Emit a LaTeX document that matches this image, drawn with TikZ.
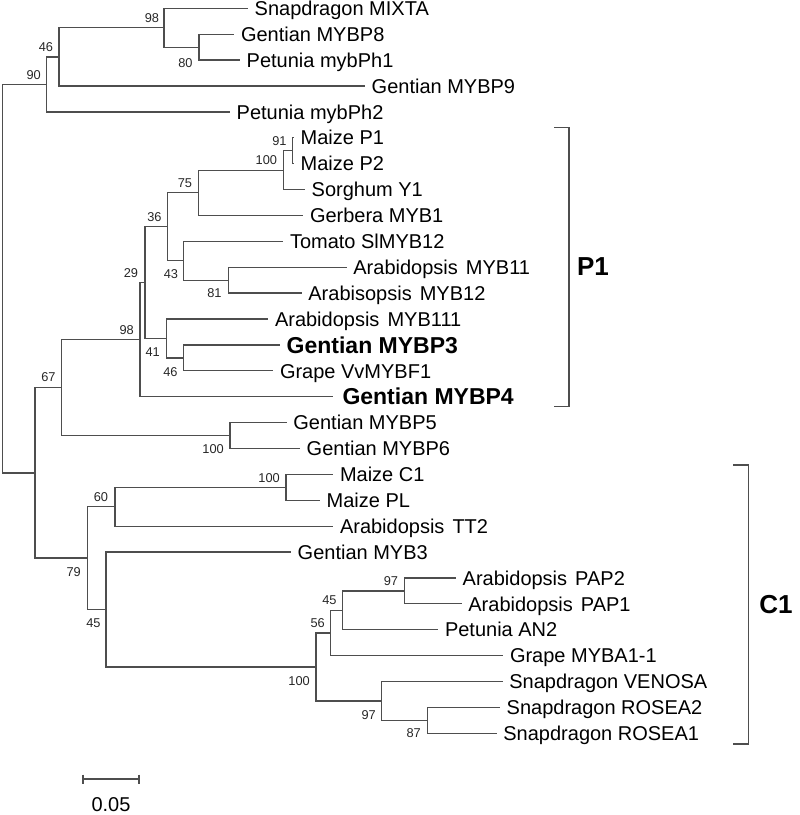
\documentclass[tikz,border=0pt]{standalone}
\usepackage{fontspec}
\setmainfont{Liberation Sans}
\definecolor{ln}{RGB}{78,78,78}
\begin{document}
\begin{tikzpicture}[x=1pt,y=-1pt,
  br/.style={draw=ln,line width=1.3pt},
  leaf/.style={anchor=base west,inner sep=0pt,font=\fontsize{20}{24}\selectfont},
  bleaf/.style={anchor=base west,inner sep=0pt,font=\fontsize{23}{27}\selectfont\bfseries},
  bs/.style={anchor=base east,inner sep=0pt,font=\fontsize{12.8}{15}\selectfont,text=black!85},
  clade/.style={font=\fontsize{26}{30}\selectfont\bfseries,inner sep=0pt},
  ]
\useasboundingbox (0,0) rectangle (800,815);

% leaves
\foreach \i/\x/\t in {
  0/248/{Snapdragon MIXTA},
  1/234.3/{Gentian MYBP8},
  2/240/{Petunia mybPh1},
  3/365/{Gentian MYBP9},
  4/230/{Petunia mybPh2},
  5/294/{Maize P1},
  6/294/{Maize P2},
  7/305/{Sorghum Y1},
  8/303.3/{Gerbera MYB1},
  9/283.3/{Tomato SlMYB12},
  10/346.7/{Arabidopsis\hspace{2.5pt} MYB11},
  11/301.7/{Arabisopsis\hspace{2.5pt} MYB12},
  12/268.3/{Arabidopsis\hspace{2.5pt} MYB111},
  14/273.3/{Grape VvMYBF1},
  16/286.7/{Gentian MYBP5},
  17/300/{Gentian MYBP6},
  18/333.3/{Maize C1},
  19/320/{Maize PL},
  20/333.3/{Arabidopsis\hspace{2.5pt} TT2},
  21/291/{Gentian MYB3},
  22/456/{Arabidopsis\hspace{2.5pt} PAP2},
  23/461.7/{Arabidopsis\hspace{2.5pt} PAP1},
  24/438.3/{Petunia AN2},
  25/503.3/{Grape MYBA1-1},
  26/502.7/{Snapdragon VENOSA},
  27/500/{Snapdragon ROSEA2},
  28/496.7/{Snapdragon ROSEA1}}{
  \coordinate (t\i) at (\x,{8.3+25.893*\i});
  \node[leaf] (L\i) at ([xshift=6.5pt,yshift=-7.2pt]t\i) {\t};
}
\coordinate (t13) at (280,{8.3+25.893*13});
\node[bleaf] (L13) at ([xshift=6.5pt,yshift=-8.2pt]t13) {Gentian MYBP3};
\coordinate (t15) at (333.3,{8.3+25.893*15});
\node[bleaf] (L15) at ([xshift=9pt,yshift=-8.2pt]t15) {Gentian MYBP4};

% internal nodes
\coordinate (n80) at (199,47.15);
\coordinate (n98a) at (164,27.7);
\coordinate (n46a) at (59,56.85);
\coordinate (n90) at (46.7,84.4);
\coordinate (n91) at (292.7,150.75);
\coordinate (n100b) at (283.3,170.2);
\coordinate (n75) at (198.3,192.8);
\coordinate (n81) at (228.3,280.15);
\coordinate (n43) at (183.3,260.7);
\coordinate (n36) at (167.7,226.75);
\coordinate (n46b) at (183.3,357.85);
\coordinate (n41) at (166.7,338.4);
\coordinate (n29) at (145,282.6);
\coordinate (n98b) at (140,339.65);
\coordinate (n100a) at (230,435.55);
\coordinate (n67) at (61.7,387.6);
\coordinate (n100c) at (286,487.3);
\coordinate (n60) at (115,506.75);
\coordinate (n97b) at (404.3,590.95);
\coordinate (n45b) at (342.3,610.3);
\coordinate (n56) at (330.7,632.95);
\coordinate (n87) at (427.3,720.35);
\coordinate (n97a) at (381.7,700.9);
\coordinate (n100d) at (316,666.9);
\coordinate (n45a) at (106,609.5);
\coordinate (n79) at (87.3,558.1);
\coordinate (nX) at (35,472.85);
\coordinate (root) at (2.7,278.6);

% branches
\foreach \p/\c in {n80/t1,n80/t2,n98a/t0,n98a/n80,n46a/n98a,n46a/t3,n90/n46a,n90/t4,
  root/n90,root/nX,
  n91/t5,n91/t6,n100b/n91,n100b/t7,n75/n100b,n75/t8,n81/t10,n81/t11,n43/t9,n43/n81,
  n36/n75,n36/n43,n46b/t13,n46b/t14,n41/t12,n41/n46b,n29/n36,n29/n41,n98b/n29,n98b/t15,
  n100a/t16,n100a/t17,n67/n98b,n67/n100a,nX/n67,nX/n79,
  n100c/t18,n100c/t19,n60/n100c,n60/t20,n79/n60,n79/n45a,n45a/t21,n45a/n100d,
  n97b/t22,n97b/t23,n45b/n97b,n45b/t24,n56/n45b,n56/t25,n100d/n56,n100d/n97a,
  n97a/t26,n97a/n87,n87/t27,n87/t28}{
  \draw[br] (\p) |- (\c);
}

% bootstrap values
\foreach \n/\x/\y/\v in {
  b98a/159.3/18.3/98, b80/192.7/62.7/80, b46a/53.3/46.7/46, b90/41/75/90,
  b91/286.7/140.7/91, b100b/277.3/160/100, b75/192.3/182.7/75, b36/161.7/216.7/36,
  b29/138.3/272.7/29, b43/178.3/274/43, b81/221.7/293.3/81, b98b/134/330/98,
  b41/160/351.7/41, b46b/177.7/371.7/46, b67/55.7/376.7/67, b100a/224/449.3/100,
  b100c/280/477.7/100, b60/108.3/497/60, b79/81/572/79, b45a/100.7/622.7/45,
  b97b/398.3/580.7/97, b45b/336.7/600/45, b56/325/622.7/56, b100d/310/680.7/100,
  b97a/376/715/97, b87/421/733.3/87}{
  \node[bs] (\n) at (\x,{\y+4.6}) {\v};
}

% clade brackets
\coordinate (p1a) at (554,127.7);
\coordinate (p1b) at (569,127.7);
\coordinate (p1c) at (569,406.7);
\coordinate (p1d) at (554,406.7);
\draw[br,line width=1.1pt] (p1a) -- (p1b) -- (p1c) -- (p1d);
\node[clade] (P1) at (593,267) {P1};
\coordinate (c1a) at (733.3,465);
\coordinate (c1b) at (748.3,465);
\coordinate (c1c) at (748.3,744);
\coordinate (c1d) at (733.3,744);
\draw[br,line width=1.1pt] (c1a) -- (c1b) -- (c1c) -- (c1d);
\node[clade] (C1) at (776,605) {C1};

% scale bar
\coordinate (s1) at (83,779);
\coordinate (s2) at (139,779);
\draw[br,line width=1.1pt] (s1) -- (s2);
\draw[br,line width=1.1pt] ([yshift=4.5pt]s1) -- ([yshift=-4.5pt]s1);
\draw[br,line width=1.1pt] ([yshift=4.5pt]s2) -- ([yshift=-4.5pt]s2);
\node[font=\fontsize{20}{24}\selectfont,inner sep=0pt] (sl) at (111,805) {0.05};
\end{tikzpicture}
\end{document}
